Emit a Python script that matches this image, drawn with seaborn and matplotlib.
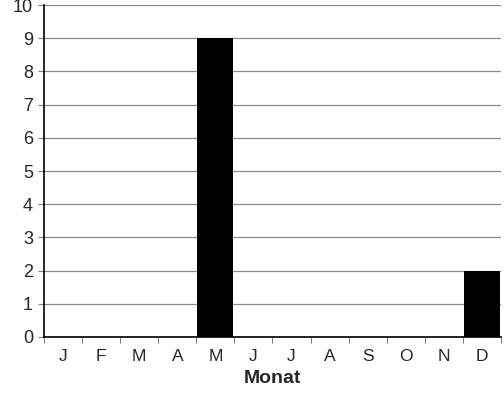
import numpy as np
import pandas as pd
import matplotlib
matplotlib.use("Agg")
import matplotlib.pyplot as plt
from matplotlib.ticker import FixedLocator
import seaborn as sns

# data
months = ["J", "F", "M", "A", "M", "J", "J", "A", "S", "O", "N", "D"]
counts = [0, 0, 0, 0, 9, 0, 0, 0, 0, 0, 0, 2]

df = pd.DataFrame({"pos": range(len(months)), "count": counts})

sns.set_theme(style="white")
plt.rcParams['font.family'] = ['Liberation Sans', 'DejaVu Sans']

fig = plt.figure(figsize=(5.04, 3.93), dpi=100)
ax = fig.add_axes([0.0873, 0.1425, 0.9067, 0.8445])

sns.barplot(data=df, x="pos", y="count", color="black", width=0.95,
            saturation=1, linewidth=0, ax=ax, zorder=3)

ax.set_xlim(-0.5, len(months) - 0.5)
ax.set_ylim(0, 10)
ax.set_yticks(range(0, 11))
ax.set_xticks(range(len(months)))
ax.set_xticklabels(months, fontsize=12.5)
ax.tick_params(axis="y", labelsize=13, length=4, width=0.8, color="#808080",
               left=True, pad=4)
ax.tick_params(axis="x", which="major", length=0, pad=9)
ax.xaxis.set_minor_locator(FixedLocator(np.arange(-0.5, len(months), 1)))
ax.tick_params(axis="x", which="minor", length=4, width=0.8, color="#808080",
               bottom=True)

ax.grid(axis="y", color="#8c8c8c", linewidth=0.9, zorder=0)
ax.set_axisbelow(True)

for s in ["top", "right"]:
    ax.spines[s].set_visible(False)
for s in ["left", "bottom"]:
    ax.spines[s].set_color("black")
    ax.spines[s].set_linewidth(1.2)

ax.set_xlabel("Monat", fontsize=14, fontweight="bold", labelpad=4)
ax.set_ylabel("")

fig.savefig("out.png", dpi=100)
